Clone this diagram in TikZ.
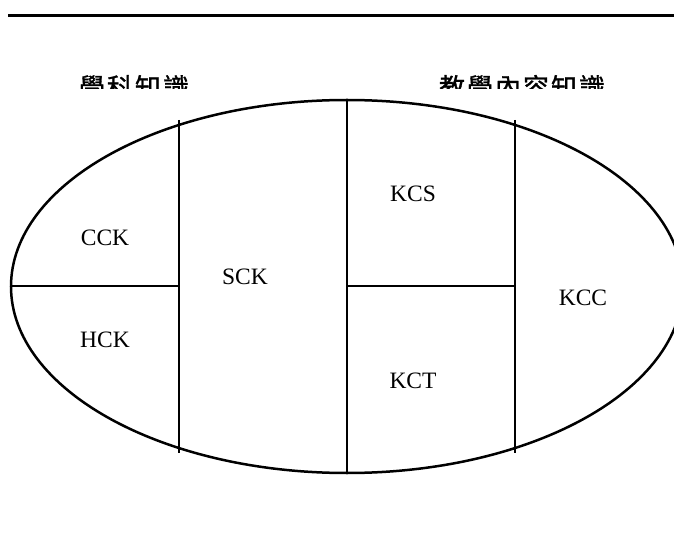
\documentclass[tikz,border=0pt]{standalone}
\usepackage{fontspec}
\setmainfont{Liberation Serif}
\newfontfamily\cjk[FakeBold=1.2]{Noto Sans CJK TC}
\tikzset{
  ln/.style={line width=2.5pt},
  lbl/.style={font=\fontsize{23.5}{27}\selectfont, inner sep=0pt},
  head/.style={font=\cjk\fontsize{26}{30}\selectfont, inner sep=0pt, anchor=base}
}
\begin{document}
\begin{tikzpicture}[x=1pt,y=-1pt]
\useasboundingbox (0,0) rectangle (674,534);
\draw[line width=3pt] (8,15.5) -- (674,15.5);
\begin{scope}
\clip (0,0) rectangle (674,88.5);
\node[head] (h1) at (134,97) {學\hspace{2pt}科\hspace{2pt}知\hspace{2pt}識};
\node[head] (h2) at (522,97) {教\hspace{2pt}學\hspace{2pt}內\hspace{2pt}容\hspace{2pt}知\hspace{2pt}識};
\end{scope}
\draw[ln] (347,286.5) ellipse [x radius=336, y radius=186.5];
\draw[ln] (179,120) -- (179,453);
\draw[ln] (347,100) -- (347,473);
\draw[ln] (515,120) -- (515,453);
\draw[ln] (11,286) -- (179,286);
\draw[ln] (347,286) -- (515,286);
\node[lbl] (cck) at (105,238) {CCK};
\node[lbl] (hck) at (105,340) {HCK};
\node[lbl] (sck) at (245,277) {SCK};
\node[lbl] (kcs) at (413,194) {KCS};
\node[lbl] (kct) at (413,381) {KCT};
\node[lbl] (kcc) at (583,298) {KCC};
\end{tikzpicture}
\end{document}
